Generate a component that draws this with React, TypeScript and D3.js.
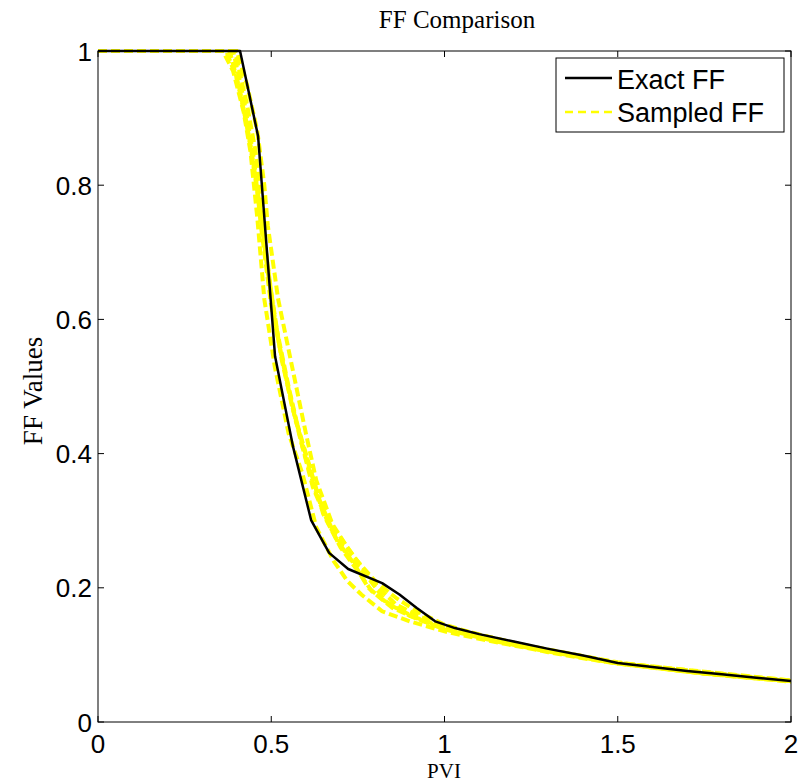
import React from "react";
import * as d3 from "d3";

const exactX = [0, 0.41, 0.462, 0.511, 0.563, 0.615, 0.667, 0.722, 0.82, 0.87, 0.92, 0.973, 1.03, 1.1, 1.2, 1.3, 1.4, 1.5, 1.6, 1.7, 1.8, 1.9, 2.0];
const exactY = [1, 1, 0.873, 0.545, 0.41, 0.301, 0.252, 0.228, 0.207, 0.19, 0.17, 0.15, 0.14, 0.131, 0.12, 0.109, 0.099, 0.088, 0.082, 0.076, 0.071, 0.066, 0.061];

const s1X = [0, 0.36, 0.39, 0.42, 0.44, 0.46, 0.48, 0.51, 0.55, 0.59, 0.63, 0.68, 0.72, 0.76, 0.82, 0.9, 1.0, 1.1, 1.2, 1.3, 1.4, 1.5, 1.6, 1.7, 1.8, 1.9, 2.0];
const s1Y = [1, 1, 0.97, 0.91, 0.85, 0.75, 0.63, 0.53, 0.43, 0.37, 0.29, 0.24, 0.21, 0.19, 0.165, 0.15, 0.135, 0.124, 0.114, 0.104, 0.095, 0.087, 0.081, 0.075, 0.07, 0.065, 0.061];

const s2X = [0, 0.4, 0.43, 0.46, 0.48, 0.49, 0.52, 0.56, 0.6, 0.63, 0.68, 0.74, 0.8, 0.86, 0.92, 1.0, 1.1, 1.2, 1.3, 1.4, 1.5, 1.6, 1.7, 1.8, 1.9, 2.0];
const s2Y = [1, 1, 0.95, 0.88, 0.8, 0.74, 0.63, 0.53, 0.43, 0.36, 0.29, 0.245, 0.21, 0.185, 0.165, 0.145, 0.13, 0.118, 0.107, 0.098, 0.089, 0.082, 0.076, 0.071, 0.066, 0.062];

const s3X = [0, 0.38, 0.41, 0.44, 0.47, 0.5, 0.53, 0.57, 0.61, 0.65, 0.7, 0.75, 0.79, 0.85, 0.93, 1.0, 1.1, 1.25, 1.5, 1.75, 2.0];
const s3Y = [1, 1, 0.94, 0.86, 0.76, 0.64, 0.54, 0.45, 0.38, 0.31, 0.26, 0.225, 0.195, 0.17, 0.152, 0.14, 0.127, 0.11, 0.088, 0.072, 0.061];

const s4X = [0, 0.39, 0.42, 0.45, 0.47, 0.5, 0.54, 0.58, 0.62, 0.67, 0.72, 0.78, 0.83, 0.9, 1.0, 1.15, 1.3, 1.5, 1.75, 2.0];
const s4Y = [1, 1, 0.93, 0.84, 0.74, 0.62, 0.52, 0.43, 0.35, 0.29, 0.25, 0.215, 0.18, 0.158, 0.138, 0.12, 0.105, 0.087, 0.072, 0.06];

const s5X = [0, 0.37, 0.4, 0.43, 0.46, 0.49, 0.52, 0.56, 0.6, 0.64, 0.69, 0.74, 0.78, 0.84, 0.92, 1.0, 1.2, 1.5, 2.0];
const s5Y = [1, 1, 0.96, 0.89, 0.79, 0.67, 0.57, 0.47, 0.4, 0.33, 0.27, 0.235, 0.2, 0.175, 0.155, 0.14, 0.116, 0.088, 0.061];

const s6X = [0, 0.395, 0.43, 0.455, 0.48, 0.51, 0.55, 0.59, 0.63, 0.67, 0.72, 0.77, 0.81, 0.86, 0.95, 1.0, 1.2, 1.5, 2.0];
const s6Y = [1, 1, 0.92, 0.85, 0.72, 0.6, 0.5, 0.41, 0.34, 0.3, 0.26, 0.225, 0.2, 0.175, 0.152, 0.143, 0.118, 0.088, 0.062];

const sampledSeries = [
  { xs: s1X, ys: s1Y },
  { xs: s2X, ys: s2Y },
  { xs: s3X, ys: s3Y },
  { xs: s4X, ys: s4Y },
  { xs: s5X, ys: s5Y },
  { xs: s6X, ys: s6Y },
];

const xTicks = [0, 0.5, 1, 1.5, 2];
const xTickLabels = ["0", "0.5", "1", "1.5", "2"];
const yTicks = [0, 0.2, 0.4, 0.6, 0.8, 1];
const yTickLabels = ["0", "0.2", "0.4", "0.6", "0.8", "1"];
const legendLabels = ["Exact FF", "Sampled FF"];

const W = 807;
const H = 783;
const L = 98, R = 791, T = 51, B = 722;

export default function App() {
  const x = d3.scaleLinear().domain([0, 2]).range([L, R]);
  const y = d3.scaleLinear().domain([0, 1]).range([B, T]);
  const line = d3
    .line<[number, number]>()
    .x((d) => x(d[0]))
    .y((d) => y(d[1]));
  const toPts = (xs: number[], ys: number[]) => xs.map((v, i) => [v, ys[i]] as [number, number]);
  const sans = "'Liberation Sans', Arial, Helvetica, sans-serif";
  const serif = "'Liberation Serif', 'Times New Roman', serif";
  const tickLen = 6;
  return (
    <svg width={W} height={H} style={{ position: "absolute", left: 0, top: 0, background: "#fff" }}>
      <rect x={0} y={0} width={W} height={H} fill="#fff" />
      <defs>
        <clipPath id="plotclip">
          <rect x={L} y={T - 3} width={R - L} height={B - T + 6} />
        </clipPath>
      </defs>
      <g clipPath="url(#plotclip)">
        {sampledSeries.map((s, i) => (
          <path
            key={i}
            d={line(toPts(s.xs, s.ys)) || ""}
            fill="none"
            stroke="#ffff00"
            strokeWidth={4}
            strokeDasharray="9,4"
          />
        ))}
        <path d={line(toPts(exactX, exactY)) || ""} fill="none" stroke="#000" strokeWidth={2.5} strokeLinejoin="round" />
      </g>
      <rect x={L} y={T} width={R - L} height={B - T} fill="none" stroke="#000" strokeWidth={1} />
      {xTicks.map((t, i) => (
        <g key={"xt" + i}>
          <line x1={x(t)} x2={x(t)} y1={B} y2={B - tickLen} stroke="#000" />
          <line x1={x(t)} x2={x(t)} y1={T} y2={T + tickLen} stroke="#000" />
          <text x={x(t)} y={753} textAnchor="middle" fontFamily={sans} fontSize={26} fill="#000">
            {xTickLabels[i]}
          </text>
        </g>
      ))}
      {yTicks.map((t, i) => (
        <g key={"yt" + i}>
          <line x1={L} x2={L + tickLen} y1={y(t)} y2={y(t)} stroke="#000" />
          <line x1={R} x2={R - tickLen} y1={y(t)} y2={y(t)} stroke="#000" />
          <text x={L - 6} y={y(t) + 9.5} textAnchor="end" fontFamily={sans} fontSize={26} fill="#000">
            {yTickLabels[i]}
          </text>
        </g>
      ))}
      <text x={457} y={28} textAnchor="middle" fontFamily={serif} fontSize={25} fill="#000">
        FF Comparison
      </text>
      <text x={444} y={778} textAnchor="middle" fontFamily={serif} fontSize={21} fill="#000">
        PVI
      </text>
      <text
        transform={`translate(42, 391) rotate(-90)`}
        textAnchor="middle"
        fontFamily={serif}
        fontSize={27}
        fill="#000"
      >
        FF Values
      </text>
      <rect x={556} y={58} width={228} height={74} fill="#fff" stroke="#000" strokeWidth={1} />
      <line x1={565} x2={612} y1={78} y2={78} stroke="#000" strokeWidth={2.5} />
      <line x1={565} x2={612} y1={112} y2={112} stroke="#ffff00" strokeWidth={2.5} strokeDasharray="8,5" />
      <text x={617} y={89} fontFamily={sans} fontSize={27} fill="#000">
        {legendLabels[0]}
      </text>
      <text x={617} y={122} fontFamily={sans} fontSize={27} fill="#000">
        {legendLabels[1]}
      </text>
    </svg>
  );
}
